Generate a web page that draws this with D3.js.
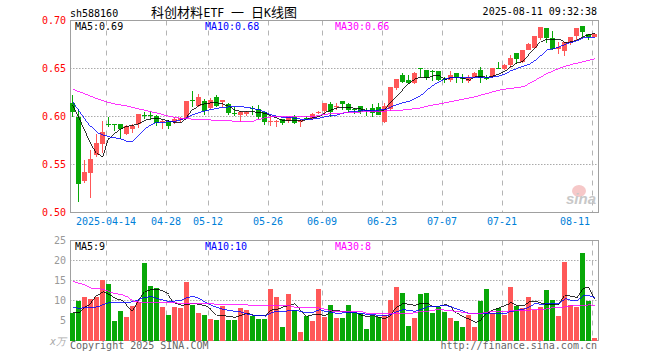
<!DOCTYPE html>
<html>
<head>
<meta charset="utf-8">
<script src="https://cdn.jsdelivr.net/npm/d3@7"></script>
<style>
  html, body { margin: 0; padding: 0; background: #fff; }
  text { font-family: "DejaVu Sans Mono", monospace; font-size: 10px; }
</style>
</head>
<body>
<svg id="chart" width="660" height="360"></svg>
<script>
// trading days
const dates = ["04-03","04-07","04-08","04-09","04-10","04-11","04-14","04-15","04-16","04-17","04-18","04-21","04-22","04-23","04-24","04-25","04-28","04-29","04-30","05-06","05-07","05-08","05-09","05-12","05-13","05-14","05-15","05-16","05-19","05-20","05-21","05-22","05-23","05-26","05-27","05-28","05-29","05-30","06-03","06-04","06-05","06-06","06-09","06-10","06-11","06-12","06-13","06-16","06-17","06-18","06-19","06-20","06-23","06-24","06-25","06-26","06-27","06-30","07-01","07-02","07-03","07-04","07-07","07-08","07-09","07-10","07-11","07-14","07-15","07-16","07-17","07-18","07-21","07-22","07-23","07-24","07-25","07-28","07-29","07-30","07-31","08-01","08-04","08-05","08-06","08-07","08-08","08-11"];
const tickDates = ["04-14","04-28","05-12","05-26","06-09","06-23","07-07","07-21","08-11"];

// prices
const opens = [.6143,.600,.5327,.5414,.5601,.5715,.5925,.5927,.592,.5813,.5865,.5927,.6014,.6014,.601,.5945,.5945,.5941,.5962,.5986,.6171,.6108,.616,.6084,.6198,.6146,.6129,.604,.6014,.6026,.6088,.6078,.605,.5947,.5945,.5971,.595,.5998,.5939,.5989,.5988,.604,.6061,.6127,.6107,.6165,.613,.6078,.611,.6069,.6085,.6095,.5943,.6074,.6293,.6432,.638,.6345,.6502,.6484,.6475,.6474,.6388,.638,.645,.6405,.6373,.6408,.6484,.6406,.6408,.651,.6491,.6536,.6658,.6564,.6693,.6717,.6814,.6922,.6814,.670,.6686,.6769,.6839,.6942,.6859,.6832];
const closes = [.6045,.530,.542,.5556,.5722,.584,.5918,.5917,.5865,.590,.5906,.6024,.6007,.6007,.5934,.595,.590,.5976,.598,.616,.6165,.6198,.6056,.617,.6108,.617,.6032,.6035,.6045,.605,.6082,.5991,.5946,.5953,.5951,.5936,.5998,.5929,.5964,.5985,.6023,.6045,.6137,.605,.611,.6127,.6068,.6073,.605,.6066,.6033,.6016,.611,.6304,.639,.6356,.6345,.645,.650,.6398,.6472,.638,.6384,.6429,.6408,.640,.6408,.645,.6405,.6402,.6505,.6507,.6536,.6606,.6599,.6693,.6755,.6842,.6928,.6814,.6703,.672,.678,.6831,.6922,.6877,.6825,.6859];
const highs = [.6229,.6083,.5545,.5656,.5816,.5951,.5997,.5927,.592,.591,.592,.6024,.6049,.6056,.6018,.5965,.5962,.599,.600,.616,.6264,.6233,.618,.6188,.6226,.617,.6136,.610,.6056,.6062,.611,.612,.605,.6005,.5964,.5971,.5998,.6016,.5964,.601,.6033,.6057,.6137,.6147,.6137,.6165,.6144,.6092,.611,.6092,.613,.6144,.6144,.6304,.639,.645,.6432,.646,.6502,.6484,.6485,.6474,.6415,.6474,.645,.6443,.6432,.6467,.6512,.6432,.6505,.6564,.6547,.664,.6658,.6693,.6762,.6842,.6928,.6922,.689,.678,.678,.6831,.6922,.6942,.6859,.6873];
const lows = [.600,.5112,.531,.5153,.558,.5615,.589,.5847,.577,.5806,.5823,.588,.597,.597,.590,.5865,.5868,.592,.5945,.5986,.610,.610,.6014,.608,.6094,.6094,.6014,.6007,.5946,.6005,.6016,.597,.5911,.590,.589,.5911,.5929,.5922,.5887,.5964,.5964,.6023,.6016,.60,.6068,.6068,.605,.6026,.6026,.6005,.5998,.6016,.5936,.606,.628,.6345,.6335,.634,.641,.638,.6373,.637,.6345,.6356,.6345,.6345,.6345,.6398,.6352,.638,.6405,.6491,.6484,.6502,.6547,.6554,.669,.671,.680,.6762,.6693,.665,.663,.6745,.680,.6832,.680,.6825];
const ma5 = [.6118,.5997,.5858,.5719,.5615,.5573,.5771,.583,.5875,.5899,.591,.5927,.5962,.5976,.5979,.5969,.5951,.5938,.5938,.599,.6073,.6118,.6135,.6142,.6142,.6128,.6101,.6066,.6052,.605,.605,.604,.6033,.6005,.5981,.5957,.5957,.5957,.5953,.5971,.5991,.5998,.6043,.6068,.6092,.6092,.6092,.6085,.6078,.6061,.6054,.605,.6075,.6144,.6213,.6276,.6345,.6397,.6408,.6404,.6422,.6422,.6387,.6408,.6408,.6398,.638,.6415,.6415,.6408,.6422,.6443,.6477,.6519,.6561,.6571,.6641,.671,.678,.6807,.6807,.6804,.6769,.6779,.6797,.6831,.6856,.6863];
const ma10 = [.6153,.6066,.598,.5892,.583,.5806,.5788,.5778,.5764,.574,.5743,.5806,.5875,.5917,.5941,.5941,.5945,.5951,.5969,.599,.6021,.6042,.6059,.6073,.6087,.6094,.6101,.6104,.6101,.6095,.6082,.6068,.6043,.6016,.60,.5991,.5988,.5981,.5971,.5971,.5974,.5984,.60,.6009,.6016,.6036,.6047,.6054,.6061,.6064,.6064,.6068,.6068,.6102,.6127,.6144,.6161,.6189,.6224,.628,.6328,.6363,.6394,.6405,.6408,.6408,.6408,.6408,.6408,.6408,.6412,.6422,.6443,.6477,.6502,.6526,.6543,.6588,.664,.6693,.6706,.6727,.6752,.6773,.679,.6818,.6825,.6825];
const ma30 = [.6281,.6257,.6233,.6209,.6184,.6163,.6143,.6129,.6118,.6108,.6094,.6077,.6063,.6049,.6035,.6018,.60,.599,.598,.5976,.5972,.5972,.5972,.5962,.5955,.5955,.5955,.5951,.5951,.595,.595,.5971,.5988,.5998,.5998,.5998,.5998,.5998,.5998,.5998,.600,.6012,.6023,.6029,.6033,.6037,.604,.6044,.6047,.605,.6052,.6055,.6057,.6061,.6064,.6068,.6075,.6082,.609,.6108,.612,.6131,.6143,.6155,.6168,.6182,.6194,.6207,.6224,.6241,.6258,.6276,.6285,.6294,.6302,.6311,.6345,.638,.6415,.645,.6476,.6502,.6523,.6543,.6557,.6571,.6587,.6602];

// volume, in units of the left axis
const vols = [6.9,9.8,10.8,10.3,10.8,15.1,14.1,4.8,7.3,5.8,8.6,9.6,19.3,13.6,13.1,8.3,6.3,8.3,8.1,14.6,8.8,6.8,6.3,5.3,5.1,8.6,5.1,5.1,8.1,7.6,6.1,5.3,5.3,12.8,10.8,3.3,11.6,7.6,2.1,6.1,4.8,12.8,5.8,8.8,5.6,5.6,8.8,6.8,6.8,2.8,6.1,5.8,6.3,10.1,13.3,11.8,3.6,5.6,11.6,11.8,6.8,8.4,7.1,5.6,4.8,3.3,6.3,3.3,9.8,12.8,6.8,8.1,6.3,13.3,8.6,8.1,10.8,7.6,8.3,12.6,10.1,6.1,19.6,8.8,8.4,21.8,9.8,0.6];
const volMa5 = [7,7,8.4,9.3,11.3,12.2,11.5,10.5,10.1,8.8,7.3,10.1,12.2,12.8,12.8,12.3,11.5,9.3,8.8,9,9.3,9,8.7,7.8,6.3,6.2,6,5.8,6.3,6.8,6.3,6.3,6.3,7.6,7.8,8.4,8.8,9.2,7.6,6.1,6.5,6.5,6.2,7.4,7.5,7.2,7,7,6.3,6,6.3,5.7,5.5,6.3,8.4,9.3,9,8.8,9.3,9.3,8.4,8.6,9,8.4,6.8,5.9,5.3,4.5,5.1,6.8,7.7,8.2,8.8,9.4,8.7,8.7,9.7,9.8,9.3,9,9.1,9,11.2,11.1,10.7,13,13.4,10.5];
const volMa10 = [8.3,8,8.3,8.3,8.4,9,9.5,9.5,9.5,9.5,9.7,10.3,10.8,11,10.5,10.1,9.7,9.9,10.1,10.8,11,10.5,9.5,8.8,8.2,7.8,7.5,7.3,7.1,6.6,6.3,6.3,6.1,7,7.3,7.2,7.5,7.6,7.2,6.9,7.1,7.7,7.3,7,6.8,6.9,7.1,6.9,6.8,6.5,6.5,6.2,6.2,6.5,7.3,7.7,7.5,7.3,7.8,8.4,8.4,8.6,8.8,8.4,7.8,7.3,6.75,6.75,6.75,6.75,6.75,6.75,6.75,7.2,7.6,7.8,8.4,9.3,9,9.2,9.3,9.3,10.5,10,10,11.2,11.2,10.7];
const volMa30 = [14.7,14.3,13.8,13,13,12.8,12.2,11.7,11.5,10.9,9.8,9.6,9.5,9.4,9.4,9.4,9.4,9.4,9.3,9.25,9.25,9.25,9.25,9.2,9,9,8.95,8.95,8.9,8.9,8.7,8.7,8.7,8.7,8.7,8.7,8.7,8.3,8.3,8.3,8.3,8.1,7.8,7.4,7.2,7.2,7.2,7.2,7.2,6.8,6.75,6.75,6.75,6.75,6.75,6.75,6.75,7,7.3,7.3,7.6,7.7,7.6,7.4,7.25,7,6.8,6.75,6.8,7.1,7.25,7.3,7.3,7.4,7.5,7.5,7.6,7.7,7.75,7.9,8.25,8.3,8.4,8.7,8.7,8.8,8.9,8.75];

const priceTicks = [0.50, 0.55, 0.60, 0.65, 0.70];
const volTicks = [5, 10, 15, 20, 25];

const red = "#ff5858", green = "#08a808", frameColor = "#a0a0a0", gridColor = "#aaaaaa";
const left = 70, right = 598;

const svg = d3.select("#chart");

const x = d3.scaleBand().domain(dates).range([left, right]);
const yPrice = d3.scaleLinear().domain([0.50, 0.70]).range([212.5, 20.5]);
const yVol = d3.scaleLinear().domain([0, 25]).range([340.5, 240.5]);

const barWidth = 5;
const mid = i => x(dates[i]) + barWidth / 2;

// dotted horizontal grid and the y axes
function drawPanel(scale, ticks, format, color) {
  svg.append("g").selectAll("line").data(ticks.slice(1, -1)).enter().append("line")
    .attr("x1", left).attr("x2", right)
    .attr("y1", d => scale(d)).attr("y2", d => scale(d))
    .attr("stroke", gridColor).attr("stroke-dasharray", "1.5,1.5");

  svg.append("g").selectAll("line").data(tickDates).enter().append("line")
    .attr("x1", d => x(d) + 0.5).attr("x2", d => x(d) + 0.5)
    .attr("y1", scale.range()[1]).attr("y2", scale.range()[0])
    .attr("stroke", "#b4b4b4").attr("stroke-dasharray", "5,5");

  svg.append("rect")
    .attr("x", left).attr("y", scale.range()[1])
    .attr("width", right - left).attr("height", scale.range()[0] - scale.range()[1])
    .attr("fill", "none").attr("stroke", frameColor).attr("shape-rendering", "crispEdges");

  const axis = svg.append("g")
    .attr("transform", `translate(${left - 4},0)`)
    .call(d3.axisLeft(scale).tickValues(ticks).tickFormat(format).tickSize(0).tickPadding(0));
  axis.select(".domain").remove();
  axis.selectAll("text").attr("fill", color).style("font-family", '"DejaVu Sans Mono", monospace').style("font-size", "10px");
}

drawPanel(yPrice, priceTicks, d3.format(".2f"), "#ff0000");
drawPanel(yVol, volTicks, d3.format("d"), "#999999");

function drawLine(values, scale, color) {
  svg.append("path").datum(values)
    .attr("d", d3.line().x((d, i) => mid(i)).y(d => scale(d)))
    .attr("fill", "none").attr("stroke", color).attr("stroke-width", 0.8)
    .attr("shape-rendering", "crispEdges");
}

// candles
const isUp = i => closes[i] >= opens[i];
const candles = svg.append("g").attr("shape-rendering", "crispEdges");
candles.selectAll(".wick").data(dates).enter().append("rect")
  .attr("class", "wick")
  .attr("x", d => x(d) + 2).attr("width", 1)
  .attr("y", (d, i) => yPrice(highs[i]))
  .attr("height", (d, i) => Math.max(1, yPrice(lows[i]) - yPrice(highs[i])))
  .attr("fill", (d, i) => isUp(i) ? red : green);
candles.selectAll(".body").data(dates).enter().append("rect")
  .attr("class", "body")
  .attr("x", d => x(d)).attr("width", barWidth)
  .attr("y", (d, i) => yPrice(Math.max(opens[i], closes[i])))
  .attr("height", (d, i) => Math.max(1, Math.abs(yPrice(opens[i]) - yPrice(closes[i]))))
  .attr("fill", (d, i) => isUp(i) ? red : green);

drawLine(ma5, yPrice, "#000000");
drawLine(ma10, yPrice, "#0000ff");
drawLine(ma30, yPrice, "#ff00ff");

// volume bars
svg.append("g").attr("shape-rendering", "crispEdges")
  .selectAll("rect").data(dates).enter().append("rect")
  .attr("x", d => x(d)).attr("width", barWidth)
  .attr("y", (d, i) => yVol(vols[i]))
  .attr("height", (d, i) => yVol(0) - yVol(vols[i]))
  .attr("fill", (d, i) => isUp(i) ? red : green);

drawLine(volMa5, yVol, "#000000");
drawLine(volMa10, yVol, "#0000ff");
drawLine(volMa30, yVol, "#ff00ff");

// x labels
svg.append("g").selectAll("text").data(tickDates).enter().append("text")
  .attr("x", (d, i) => i === tickDates.length - 1 ? 575 : x(d))
  .attr("y", 225)
  .attr("text-anchor", "middle")
  .attr("fill", "#0080d8")
  .text((d, i) => i === 0 ? "2025-" + d : d);

// texts around the chart
function label(txt, px, py, color, anchor) {
  return svg.append("text").attr("x", px).attr("y", py).attr("fill", color)
    .attr("text-anchor", anchor || "start").text(txt);
}
label("sh588160", 70, 17, "#000");
label("2025-08-11 09:32:38", 597, 15, "#000", "end");

// title pieces, the latin letters are narrower here than the font's own
function titlePiece(txt, px, cjk) {
  label(txt, px, 17, "#000")
    .style("font-family", cjk ? '"Noto Sans CJK SC"' : '"DejaVu Sans Mono"')
    .style("font-size", cjk ? "13px" : "11.5px");
}
titlePiece("科创材料", 151, true);
titlePiece("ETF", 203.5, false);
titlePiece("一", 231, true);
titlePiece("日", 251, true);
titlePiece("K", 264, false);
titlePiece("线图", 271, true);

label("MA5:0.69", 75, 30, "#000");
label("MA10:0.68", 205, 30, "#0000ff");
label("MA30:0.66", 335, 30, "#ff00ff");
label("MA5:9", 75, 250, "#000");
label("MA10:10", 205, 250, "#0000ff");
label("MA30:8", 335, 250, "#ff00ff");

label("x万", 66, 345, "#aaaaaa", "end").style("font-style", "italic");
label("Copyright 2025 SINA.COM", 70, 349, "#666666");
label("http://finance.sina.com.cn", 597, 349, "#666666", "end");

// sina watermark
svg.append("ellipse").attr("cx", 579).attr("cy", 191).attr("rx", 7).attr("ry", 6).attr("fill", "#f6c8c8");
svg.append("text").attr("x", 566).attr("y", 204).attr("fill", "#c8c8c8")
  .style("font-family", '"Liberation Sans"').style("font-size", "15px")
  .style("font-weight", "bold").style("font-style", "italic").text("sina");
</script>
</body>
</html>
